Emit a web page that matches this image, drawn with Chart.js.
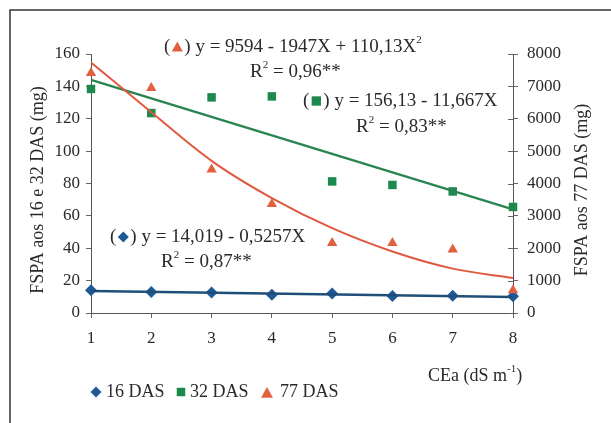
<!DOCTYPE html>
<html>
<head>
<meta charset="utf-8">
<script src="https://cdn.jsdelivr.net/npm/chart.js"></script>
<style>
  html, body { margin: 0; padding: 0; background: #fff; }
  canvas { display: block; }
</style>
</head>
<body>
<canvas id="grafico" width="611" height="423"></canvas>
<script>
// Dados
const ceaValues = [1, 2, 3, 4, 5, 6, 7, 8];
const fspa16 = [14.0, 13.0, 12.6, 11.3, 12.1, 10.5, 10.7, 10.3];
const fspa32 = [138.4, 123.5, 133.2, 133.8, 81.3, 79.1, 75.1, 65.5];
const fspa77 = [7410, 6950, 4430, 3370, 2160, 2160, 1960, 700];

// Linhas de tendência
const trendX = [1, 8];
const trend16 = [13.6, 9.9];
const trend32 = [144, 64];
const trend77 = [7740, 6200, 4700, 3550, 2620, 1900, 1370, 1080];

const leftTicks = [0, 20, 40, 60, 80, 100, 120, 140, 160];
const rightTicks = [0, 1000, 2000, 3000, 4000, 5000, 6000, 7000, 8000];

const azul = '#1d5a97';
const azulLinha = '#1f4e79';
const verde = '#1b8a4c';
const verdeLinha = '#2a8552';
const vermelho = '#e0603f';
const vermelhoLinha = '#e0583f';
const FONTE = '"Liberation Serif", "Times New Roman", serif';
const TEXTO = '#2a2a2a';

const pts = (xs, ys) => xs.map((x, i) => ({ x: x, y: ys[i] }));

function drawMarker(ctx, tipo, x, y, r, cor) {
  ctx.save();
  ctx.fillStyle = cor;
  ctx.beginPath();
  if (tipo === 'diamond') {
    ctx.moveTo(x, y - r); ctx.lineTo(x + r, y); ctx.lineTo(x, y + r); ctx.lineTo(x - r, y);
  } else if (tipo === 'square') {
    ctx.rect(x - r * 0.85, y - r * 0.85, r * 1.7, r * 1.7);
  } else {
    ctx.moveTo(x, y - r); ctx.lineTo(x + r, y + r * 0.8); ctx.lineTo(x - r, y + r * 0.8);
  }
  ctx.closePath();
  ctx.fill();
  ctx.restore();
}

function drawRich(ctx, partes, x, y, tam) {
  let cx = x;
  tam = tam || 19;
  ctx.textAlign = 'left';
  ctx.textBaseline = 'middle';
  ctx.fillStyle = TEXTO;
  partes.forEach(p => {
    if (p.marker) {
      drawMarker(ctx, p.marker, cx + 7, y, 5.5, p.color);
      cx += 14;
      return;
    }
    ctx.font = (p.sup ? Math.round(tam * 0.6) + 'px ' : tam + 'px ') + FONTE;
    ctx.fillText(p.text, cx, p.sup ? y - 7 : y);
    cx += ctx.measureText(p.text).width;
  });
}

const extras = {
  id: 'extras',
  afterDraw(chart) {
    const ctx = chart.ctx;
    const area = chart.chartArea;
    const yR = chart.scales.y1;
    ctx.save();

    // moldura
    ctx.strokeStyle = '#333';
    ctx.lineWidth = 1.5;
    ctx.beginPath();
    ctx.moveTo(10, 423); ctx.lineTo(10, 10); ctx.lineTo(611, 10);
    ctx.stroke();

    // marcas internas do eixo direito
    ctx.strokeStyle = '#666';
    ctx.lineWidth = 1;
    rightTicks.forEach(v => {
      const py = Math.round(yR.getPixelForValue(v)) + 0.5;
      ctx.beginPath();
      ctx.moveTo(area.right - 5, py); ctx.lineTo(area.right, py);
      ctx.stroke();
    });

    // equações
    drawRich(ctx, [{ text: '(' }, { marker: 'triangle', color: vermelho }, { text: ') y = 9594 - 1947X + 110,13X' }, { text: '2', sup: true }], 164, 47);
    drawRich(ctx, [{ text: 'R' }, { text: '2', sup: true }, { text: ' = 0,96**' }], 250, 72);
    drawRich(ctx, [{ text: '(' }, { marker: 'square', color: verde }, { text: ') y = 156,13 - 11,667X' }], 303, 101);
    drawRich(ctx, [{ text: 'R' }, { text: '2', sup: true }, { text: ' = 0,83**' }], 356, 127);
    drawRich(ctx, [{ text: '(' }, { marker: 'diamond', color: azul }, { text: ') y = 14,019 - 0,5257X' }], 110, 237);
    drawRich(ctx, [{ text: 'R' }, { text: '2', sup: true }, { text: ' = 0,87**' }], 161, 262);

    // título do eixo x
    drawRich(ctx, [{ text: 'CEa (dS m' }, { text: '-1', sup: true }, { text: ')' }], 428, 376, 18);

    // legenda
    drawMarker(ctx, 'diamond', 96, 392, 5.5, azul);
    drawRich(ctx, [{ text: '16 DAS' }], 106, 392, 18);
    drawMarker(ctx, 'square', 181, 392, 5, verde);
    drawRich(ctx, [{ text: '32 DAS' }], 190, 392, 18);
    drawMarker(ctx, 'triangle', 267, 393, 6, vermelho);
    drawRich(ctx, [{ text: '77 DAS' }], 280, 392, 18);

    // títulos dos eixos y
    ctx.font = '18px ' + FONTE;
    ctx.fillStyle = TEXTO;
    ctx.textAlign = 'center';
    ctx.textBaseline = 'middle';
    ctx.save();
    ctx.translate(38, 190);
    ctx.rotate(-Math.PI / 2);
    ctx.fillText('FSPA aos 16 e 32 DAS (mg)', 0, 0);
    ctx.restore();
    ctx.save();
    ctx.translate(582, 190);
    ctx.rotate(-Math.PI / 2);
    ctx.fillText('FSPA aos 77 DAS (mg)', 0, 0);
    ctx.restore();

    ctx.restore();
  }
};

const tickFont = { family: FONTE, size: 17 };

new Chart(document.getElementById('grafico').getContext('2d'), {
  type: 'line',
  data: {
    datasets: [
      { label: 'tend77', data: pts(ceaValues, trend77), yAxisID: 'y1', borderColor: vermelhoLinha, borderWidth: 2, pointRadius: 0, cubicInterpolationMode: 'monotone', fill: false, clip: false },
      { label: 'tend32', data: pts(trendX, trend32), yAxisID: 'y', borderColor: verdeLinha, borderWidth: 2.5, pointRadius: 0, fill: false, clip: false },
      { label: 'tend16', data: pts(trendX, trend16), yAxisID: 'y', borderColor: azulLinha, borderWidth: 2.5, pointRadius: 0, fill: false, clip: false },
      { label: '77 DAS', data: pts(ceaValues, fspa77), yAxisID: 'y1', showLine: false, pointStyle: 'triangle', pointRadius: 6, backgroundColor: vermelho, borderColor: vermelho, borderWidth: 0, clip: false },
      { label: '32 DAS', data: pts(ceaValues, fspa32), yAxisID: 'y', showLine: false, pointStyle: 'rect', pointRadius: 6, backgroundColor: verde, borderColor: verde, borderWidth: 0, clip: false },
      { label: '16 DAS', data: pts(ceaValues, fspa16), yAxisID: 'y', showLine: false, pointStyle: 'rectRot', pointRadius: 6, backgroundColor: azul, borderColor: azul, borderWidth: 0, clip: false }
    ]
  },
  options: {
    responsive: false,
    animation: false,
    devicePixelRatio: 1,
    layout: { padding: { top: 54, left: 0, right: 0, bottom: 0 } },
    plugins: { legend: { display: false }, tooltip: { enabled: false } },
    scales: {
      x: {
        type: 'linear', min: 1, max: 8,
        ticks: { stepSize: 1, font: tickFont, color: TEXTO, padding: 10 },
        grid: { drawOnChartArea: false, tickLength: 5, color: '#666' },
        border: { color: '#555' },
        afterFit: s => { s.height = 110; }
      },
      y: {
        position: 'left', min: 0, max: 160,
        afterBuildTicks: s => { s.ticks = leftTicks.map(v => ({ value: v })); },
        ticks: { font: tickFont, color: TEXTO, padding: 6, callback: v => String(v) },
        grid: { drawOnChartArea: false, tickLength: 5, color: '#666' },
        border: { color: '#555' },
        afterFit: s => { s.width = 91; }
      },
      y1: {
        position: 'right', min: 0, max: 8000,
        afterBuildTicks: s => { s.ticks = rightTicks.map(v => ({ value: v })); },
        ticks: { font: tickFont, color: TEXTO, padding: 9, callback: v => String(v) },
        grid: { drawOnChartArea: false, tickLength: 5, color: '#666' },
        border: { color: '#555' },
        afterFit: s => { s.width = 98; }
      }
    }
  },
  plugins: [extras]
});
</script>
</body>
</html>
